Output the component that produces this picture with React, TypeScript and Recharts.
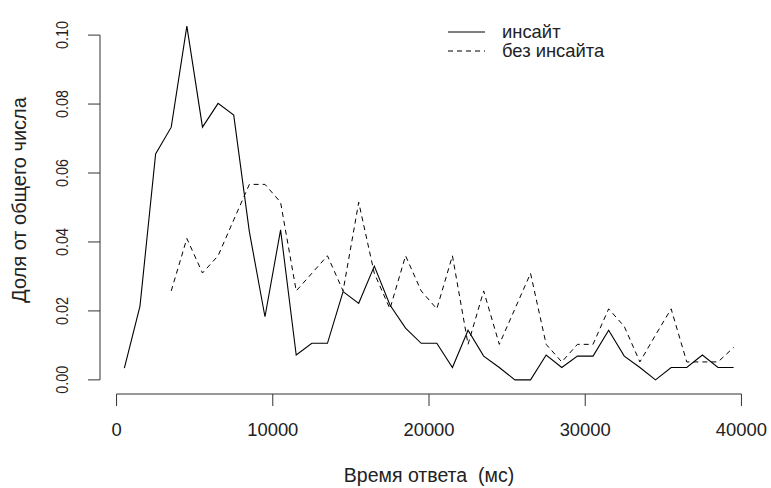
import { LineChart, Line, XAxis, YAxis, ReferenceLine, Legend } from 'recharts';

// время ответа, середины интервалов по 1000 мс
const responseTimes = [
  500, 1500, 2500, 3500, 4500, 5500, 6500, 7500, 8500, 9500,
  10500, 11500, 12500, 13500, 14500, 15500, 16500, 17500, 18500, 19500,
  20500, 21500, 22500, 23500, 24500, 25500, 26500, 27500, 28500, 29500,
  30500, 31500, 32500, 33500, 34500, 35500, 36500, 37500, 38500, 39500,
];

// доля решений с инсайтом
const insightShare = [
  0.0034, 0.0214, 0.0655, 0.0733, 0.1026, 0.0733, 0.0802, 0.0768, 0.043, 0.0183,
  0.0435, 0.0072, 0.0106, 0.0106, 0.0256, 0.0222, 0.033, 0.0217, 0.015, 0.0106,
  0.0106, 0.0036, 0.0144, 0.0069, 0.0036, 0, 0, 0.0072, 0.0036, 0.0069,
  0.0069, 0.0144, 0.0069, 0.0036, 0, 0.0036, 0.0036, 0.0072, 0.0036, 0.0036,
];

// без инсайта, начинается с 3500 мс
const noInsightStart = 3500;
const noInsightShare = [
  0.0258, 0.041, 0.031, 0.036, 0.0464, 0.0567, 0.0567, 0.0515, 0.0258, 0.0309,
  0.036, 0.0258, 0.0515, 0.0309, 0.0206, 0.036, 0.0258, 0.0206, 0.036, 0.0103,
  0.0258, 0.0103, 0.0206, 0.0309, 0.0103, 0.0052, 0.0103, 0.0103, 0.0206, 0.0155,
  0.0052, 0.013, 0.0206, 0.0052, 0.0052, 0.0052, 0.0094,
];

const seriesNames = ['инсайт', 'без инсайта'];
const xTicks = [0, 10000, 20000, 30000, 40000];
const yTicks = [0, 0.02, 0.04, 0.06, 0.08, 0.1];

// как в R: диапазон данных + 4%
const xDomain: [number, number] = [-1060, 41060];
const yDomain: [number, number] = [-0.0041, 0.1067];

const FONT = '"Liberation Sans", Arial, sans-serif';
const INK = '#222';
const DASH = '5 4';

const offset = responseTimes.indexOf(noInsightStart);
const data = responseTimes.map((t, i) => ({
  t,
  insight: insightShare[i],
  noInsight: i >= offset ? noInsightShare[i - offset] : null,
}));

function XTick(props: any) {
  const { x, y, payload } = props;
  return (
    <text x={x} y={y} textAnchor="middle" fontFamily={FONT} fontSize={18.4} fill={INK}>
      {payload.value}
    </text>
  );
}

function YTick(props: any) {
  const { x, y, payload } = props;
  return (
    <text
      transform={`translate(${x},${y}) rotate(-90)`}
      textAnchor="middle"
      fontFamily={FONT}
      fontSize={17}
      fill={INK}
      textLength={28}
      lengthAdjust="spacingAndGlyphs"
    >
      {Number(payload.value).toFixed(2)}
    </text>
  );
}

function LegendBox() {
  return (
    <svg width={220} height={50} style={{ display: 'block' }}>
      {seriesNames.map((name, i) => (
        <g key={name}>
          <line
            x1={8}
            x2={45}
            y1={14 + i * 19}
            y2={14 + i * 19}
            stroke="#000"
            strokeDasharray={i === 1 ? DASH : undefined}
          />
          <text x={62} y={20 + i * 19} fontFamily={FONT} fontSize={18.4} fill={INK}>
            {name}
          </text>
        </g>
      ))}
    </svg>
  );
}

export default function App() {
  return (
    <div style={{ position: 'absolute', left: 0, top: 0, background: '#fff' }}>
      <LineChart width={771} height={488} data={data} margin={{ top: 12, right: 13, left: 40, bottom: 64 }}>
        <XAxis
          dataKey="t"
          type="number"
          domain={xDomain}
          allowDataOverflow
          ticks={xTicks}
          axisLine={false}
          tickLine={{ stroke: '#333' }}
          tickSize={12}
          tickMargin={30}
          tick={<XTick />}
          height={30}
        />
        <YAxis
          type="number"
          domain={yDomain}
          allowDataOverflow
          ticks={yTicks}
          axisLine={false}
          tickLine={{ stroke: '#333' }}
          tickSize={12}
          tickMargin={20}
          tick={<YTick />}
          width={60}
        />
        <ReferenceLine
          segment={[{ x: 0, y: yDomain[0] }, { x: 40000, y: yDomain[0] }]}
          stroke="#333"
          ifOverflow="visible"
        />
        <ReferenceLine
          segment={[{ x: xDomain[0], y: 0 }, { x: xDomain[0], y: 0.1 }]}
          stroke="#333"
          ifOverflow="visible"
        />
        <Legend
          layout="horizontal"
          verticalAlign="middle"
          align="center"
          content={<LegendBox />}
          wrapperStyle={{ left: 440, top: 18, width: 220, height: 50 }}
        />
        <Line
          dataKey="insight"
          name={seriesNames[0]}
          type="linear"
          stroke="#000"
          strokeWidth={1.1}
          dot={false}
          isAnimationActive={false}
        />
        <Line
          dataKey="noInsight"
          name={seriesNames[1]}
          type="linear"
          stroke="#000"
          strokeWidth={1}
          strokeDasharray={DASH}
          dot={false}
          isAnimationActive={false}
        />
        <text x={429} y={482} textAnchor="middle" fontFamily={FONT} fontSize={19.5} fill={INK} style={{ whiteSpace: 'pre' }}>
          {'Время ответа  (мс)'}
        </text>
        <text
          transform="translate(26,200) rotate(-90)"
          textAnchor="middle"
          fontFamily={FONT}
          fontSize={20}
          fill={INK}
        >
          Доля от общего числа
        </text>
      </LineChart>
    </div>
  );
}
